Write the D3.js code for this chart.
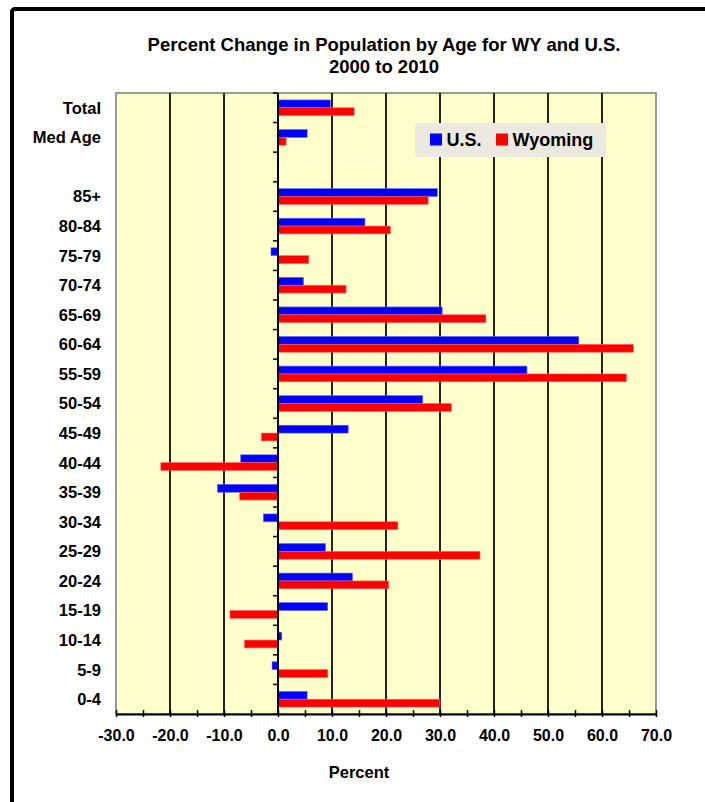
<!DOCTYPE html>
<html>
<head>
<meta charset="utf-8">
<script src="https://cdn.jsdelivr.net/npm/d3@7"></script>
<style>
  body { margin: 0; background: #fff; }
  svg { display: block; font-family: 'Liberation Sans', Arial, sans-serif; font-weight: bold; }
</style>
</head>
<body>
<div id="chart"></div>
<script>
const categories = ['Total', 'Med Age', '', '85+', '80-84', '75-79', '70-74', '65-69', '60-64', '55-59',
  '50-54', '45-49', '40-44', '35-39', '30-34', '25-29', '20-24', '15-19', '10-14', '5-9', '0-4']
const usValues = [9.7, 5.4, null, 29.5, 16.1, -1.3, 4.7, 30.4, 55.7, 46.1,
  26.8, 13.0, -6.9, -11.2, -2.7, 8.8, 13.8, 9.2, 0.7, -1.1, 5.4]
const wyValues = [14.1, 1.5, null, 27.8, 20.8, 5.7, 12.6, 38.5, 65.8, 64.5,
  32.1, -3.1, -21.7, -7.1, 22.2, 37.4, 20.5, -8.9, -6.2, 9.2, 30.0]
const series = ['U.S.', 'Wyoming']
const colors = ['#0000ff', '#ff0000']
const xTicks = [-30, -20, -10, 0, 10, 20, 30, 40, 50, 60, 70]
const xMinorTicks = [-30, -25, -20, -15, -10, -5, 0, 5, 10, 15, 20, 25, 30, 35, 40, 45, 50, 55, 60, 65, 70]

const W = 705, H = 802
const plot = {left: 116, right: 656, top: 93, bottom: 714}

const x = d3.scaleLinear().domain([-30, 70]).range([plot.left, plot.right])
const y = d3.scaleBand().domain(categories).range([plot.top, plot.bottom]).padding(0)
const barH = y.bandwidth() * 0.265

const svg = d3.select('#chart').append('svg')
  .attr('width', W)
  .attr('height', H)

// outer chart border (runs off the right / bottom edge)
svg.append('rect')
  .attr('x', 12).attr('y', 9)
  .attr('width', 760).attr('height', 900)
  .attr('rx', 3)
  .attr('fill', 'none')
  .attr('stroke', '#000')
  .attr('stroke-width', 4)

// title
const title = svg.append('text')
  .attr('text-anchor', 'middle')
  .attr('font-size', 18.5)
title.append('tspan').attr('x', 384).attr('y', 51).text('Percent Change in Population by Age for WY and U.S.')
title.append('tspan').attr('x', 384).attr('y', 73).text('2000 to 2010')

// plot area
svg.append('rect')
  .attr('x', plot.left).attr('y', plot.top)
  .attr('width', plot.right - plot.left).attr('height', plot.bottom - plot.top)
  .attr('fill', '#ffffcc')
  .attr('stroke', '#999')
  .attr('stroke-width', 2)

svg.append('g').selectAll('line')
  .data(xTicks.filter(d => d !== 0 && d !== -30 && d !== 70))
  .enter().append('line')
    .attr('x1', d => x(d)).attr('x2', d => x(d))
    .attr('y1', plot.top).attr('y2', plot.bottom)
    .attr('stroke', '#222')
    .attr('stroke-width', 2)

// bars
const group = svg.append('g').selectAll('.bar')
  .data(categories.map((c, i) => ({cat: c, vals: [usValues[i], wyValues[i]]})))
  .enter().append('g')
    .attr('class', 'bar')
    .attr('transform', d => `translate(0, ${y(d.cat)})`)
group.selectAll('rect')
  .data(d => d.vals.map((v, j) => ({v: v, j: j})).filter(e => e.v !== null))
  .enter().append('rect')
    .attr('x', d => x(Math.min(0, d.v)))
    .attr('y', d => y.bandwidth() / 2 - barH + d.j * barH)
    .attr('width', d => Math.abs(x(d.v) - x(0)))
    .attr('height', barH)
    .attr('fill', d => colors[d.j])
    .attr('stroke', d => d.j === 0 ? '#6060ff' : '#ff6060')
    .attr('stroke-width', 0.6)

// vertical axis on zero
const yAxis = svg.append('g')
yAxis.append('line')
  .attr('x1', x(0)).attr('x2', x(0))
  .attr('y1', plot.top).attr('y2', plot.bottom)
  .attr('stroke', '#000').attr('stroke-width', 2)
yAxis.selectAll('.ytick')
  .data(categories.map(c => y(c)).concat([plot.bottom]))
  .enter().append('line')
    .attr('class', 'ytick')
    .attr('x1', x(0) - 5).attr('x2', x(0))
    .attr('y1', d => d).attr('y2', d => d)
    .attr('stroke', '#000').attr('stroke-width', 1.5)

// category labels
svg.append('g').selectAll('text')
  .data(categories)
  .enter().append('text')
    .attr('x', 101)
    .attr('y', d => y(d) + y.bandwidth() / 2)
    .attr('dy', '0.36em')
    .attr('text-anchor', 'end')
    .attr('font-size', 16.5)
    .text(d => d)

// x axis
const xAxis = svg.append('g')
  .attr('transform', `translate(0, ${plot.bottom})`)
  .call(d3.axisBottom(x).tickValues(xMinorTicks).tickSizeOuter(0)
    .tickFormat(d => xTicks.includes(d) ? d.toFixed(1) : ''))
xAxis.select('.domain').attr('stroke', '#000').attr('stroke-width', 2)
xAxis.selectAll('.tick line')
  .attr('y1', -4).attr('y2', 3)
  .attr('stroke', '#000').attr('stroke-width', 1.5)
xAxis.selectAll('.tick text')
  .attr('y', 27).attr('dy', 0)
  .attr('fill', '#000')
  .attr('font-size', 16)
  .attr('font-family', null)
xAxis.attr('font-family', null).attr('font-size', null)

svg.append('text')
  .attr('x', 359).attr('y', 778)
  .attr('text-anchor', 'middle')
  .attr('font-size', 16.5)
  .text('Percent')

// legend
const legend = svg.append('g').attr('transform', 'translate(415, 123)')
legend.append('rect')
  .attr('width', 191).attr('height', 34)
  .attr('fill', '#ece9e0')
const legendX = [15, 81]
const item = legend.selectAll('.item')
  .data(series)
  .enter().append('g')
    .attr('class', 'item')
    .attr('transform', (d, i) => `translate(${legendX[i]}, 0)`)
item.append('rect')
  .attr('y', 10.5).attr('width', 12).attr('height', 12)
  .attr('fill', (d, i) => colors[i])
item.append('text')
  .attr('x', 16.5).attr('y', 23)
  .attr('font-size', 18)
  .text(d => d)
</script>
</body>
</html>
